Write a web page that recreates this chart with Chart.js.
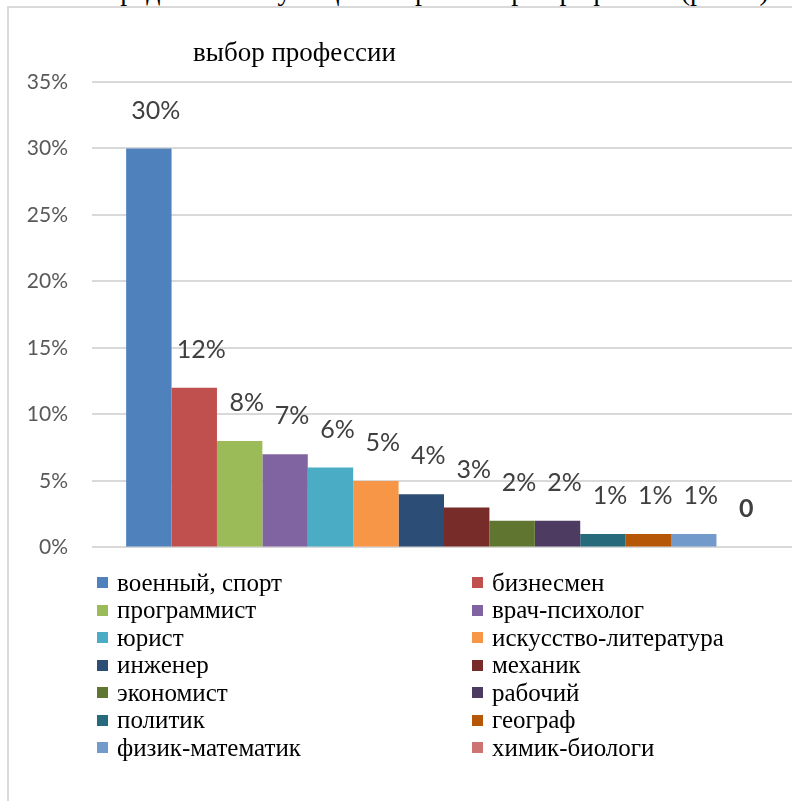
<!DOCTYPE html>
<html lang="ru">
<head>
<meta charset="utf-8">
<title>выбор профессии</title>
<script src="https://cdn.jsdelivr.net/npm/chart.js@4.4.1/dist/chart.umd.min.js"></script>
<style>
  html, body { margin:0; padding:0; background:#fff; width:792px; height:801px; overflow:hidden; position:relative; }
  .serif { font-family:"Times New Roman", Times, "Liberation Serif", Tinos, "Noto Serif", "DejaVu Serif", FreeSerif, serif; color:#000; white-space:nowrap; }
  .frame { position:absolute; left:7px; top:6px; width:900px; height:900px; border-left:2px solid #d9d9d9; border-top:2px solid #d9d9d9; }
  .caption { position:absolute; left:100px; top:-23px; font-size:28px; line-height:28px; }
  .wrap { position:absolute; left:0; top:0; }
  .title { position:absolute; left:193px; top:37px; font-size:27px; line-height:30px; }
  #legend { position:absolute; left:97px; top:569px; display:grid; grid-template-columns:375px 320px; grid-auto-rows:27.5px; font-size:25px; }
  .item { display:flex; align-items:center; }
  .sw { width:11px; height:11px; margin-right:9px; flex:none; }
</style>
</head>
<body>
<div class="frame"></div>
<div class="caption serif">Предпочтения учащихся при выборе профессии (рис. 1)</div>
<div class="wrap"><canvas id="chart" width="820" height="584"></canvas></div>
<div class="title serif">выбор профессии</div>
<div id="legend" class="serif"></div>
<script>
const $ = (id) => document.getElementById(id);

// данные
const categories = [""];
const professions = [
  "военный, спорт", "бизнесмен", "программист", "врач-психолог",
  "юрист", "искусство-литература", "инженер", "механик",
  "экономист", "рабочий", "политик", "географ",
  "физик-математик", "химик-биологи"
];
const percents = [30, 12, 8, 7, 6, 5, 4, 3, 2, 2, 1, 1, 1, 0];
const valueLabels = ["30%", "12%", "8%", "7%", "6%", "5%", "4%", "3%", "2%", "2%", "1%", "1%", "1%", "0"];
const colors = [
  "#4F81BD", "#C0504D", "#9BBB59", "#8064A2",
  "#4BACC6", "#F79646", "#2C4D75", "#772C2A",
  "#5F7530", "#4D3B62", "#276A7C", "#B65708",
  "#729ACA", "#CD7371"
];
const yTicks = ["0%", "5%", "10%", "15%", "20%", "25%", "30%", "35%"];

const datasets = professions.map((name, i) => ({
  label: name,
  data: [percents[i]],
  backgroundColor: colors[i],
  borderWidth: 0,
  categoryPercentage: 0.903,
  barPercentage: 1
}));

// подписи над столбцами
const valueLabelPlugin = {
  id: "valueLabels",
  afterDatasetsDraw(chart){
    const ctx = chart.ctx;
    ctx.save();
    ctx.fillStyle = "#404040";
    ctx.textAlign = "center";
    ctx.textBaseline = "middle";
    chart.data.datasets.forEach((ds, i) => {
      const meta = chart.getDatasetMeta(i);
      meta.data.forEach(bar => {
        const txt = valueLabels[i];
        ctx.font = (txt === "0" ? "bold " : "") + "25px Lato, 'Open Sans', sans-serif";
        ctx.fillText(txt, bar.x + 7, bar.y - 38);
      });
    });
    ctx.restore();
  }
};

const chart = new Chart($("chart"), {
  type: "bar",
  data: { labels: categories, datasets },
  options: {
    responsive: false,
    animation: false,
    layout: { padding: { top: 82, right: 24, bottom: 13, left: 0 } },
    plugins: {
      legend: { display: false },
      tooltip: { enabled: false },
      title: { display: false }
    },
    scales: {
      x: { display: false },
      y: {
        min: 0,
        max: 35,
        ticks: {
          stepSize: 5,
          padding: 24,
          color: "#595959",
          font: { family: "Lato, 'Open Sans', sans-serif", size: 21 },
          callback: (v) => yTicks[Math.round(v / 5)]
        },
        grid: { color: "#d9d9d9", lineWidth: 2, drawTicks: false },
        border: { display: false },
        afterFit: (scale) => { scale.width = 92; }
      }
    }
  },
  plugins: [valueLabelPlugin]
});

// легенда в две колонки
$("legend").innerHTML = chart.data.datasets.map(ds => `
  <div class="item"><span class="sw" style="background:${ds.backgroundColor}"></span>${ds.label}</div>
`).join("");
</script>
</body>
</html>
